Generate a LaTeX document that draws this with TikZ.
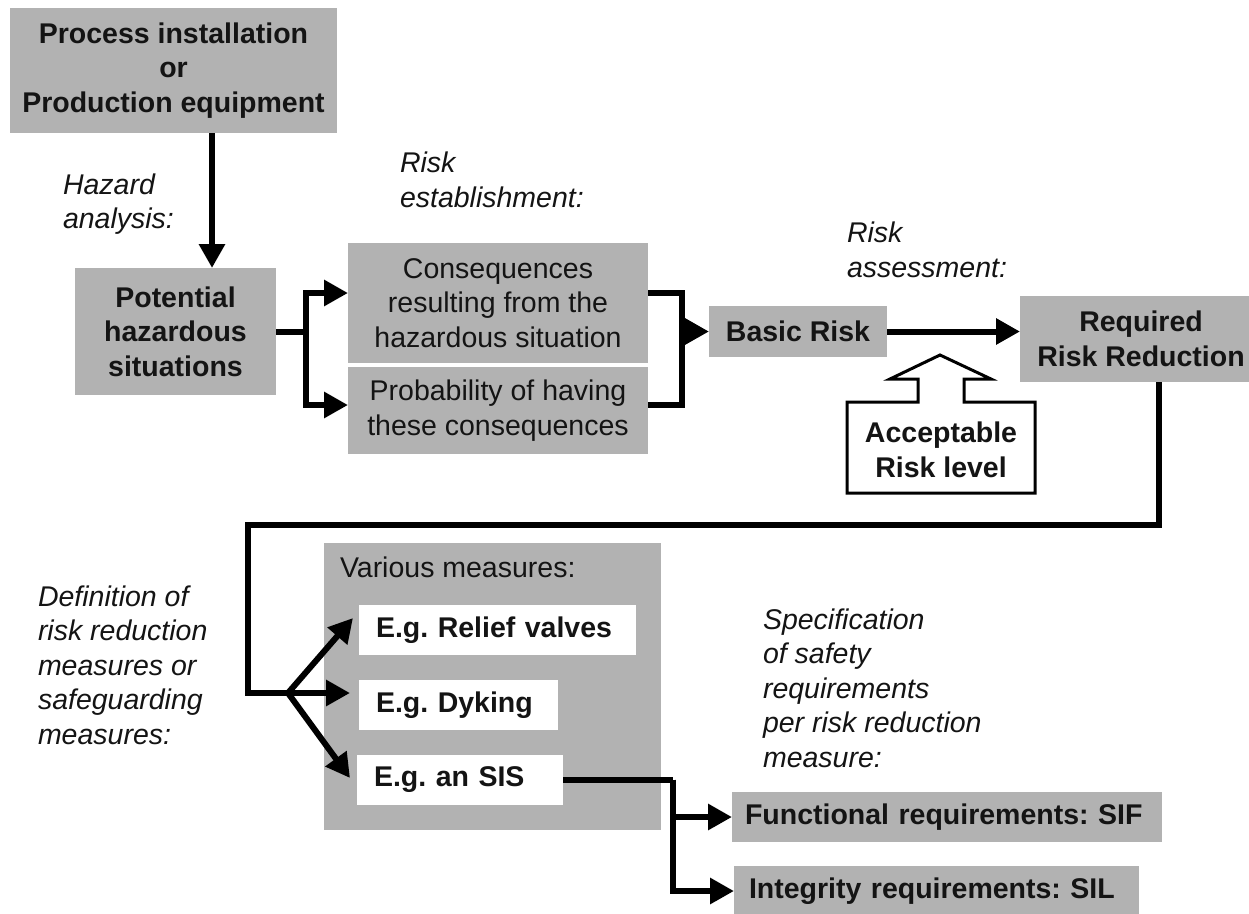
\documentclass[tikz,border=0pt]{standalone}
\usepackage{fontspec}
\setmainfont{Liberation Sans}
\usetikzlibrary{arrows.meta,calc}
\definecolor{boxgray}{RGB}{178,178,178}
\definecolor{ink}{RGB}{20,20,20}
\frenchspacing
\begin{document}
\begin{tikzpicture}[x=1pt,y=-1pt,
 every node/.style={inner sep=0pt, outer sep=0pt, text=ink},
 fs/.style={font=\fontsize{28.5}{34.5}\selectfont},
 bld/.style={font=\fontsize{28.5}{34.5}\selectfont\bfseries},
 gbox/.style={fill=boxgray, align=center, fs},
 lbl/.style={align=left, font=\fontsize{28.5}{34.5}\selectfont\itshape},
 wbox/.style={fill=white, align=left, bld, inner xsep=17pt, anchor=west, minimum height=50pt},
 conn/.style={line width=6pt, draw=black, line join=miter},
 arr/.style={conn, -{Triangle[length=24pt,width=25pt]}},
]
\useasboundingbox (0,0) rectangle (1249,913);
\fill[white] (0,0) rectangle (1249,913);
\clip (0,0) rectangle (1249,913);

% boxes
\node[gbox,bld,minimum width=327pt,minimum height=125pt] (top) at (173.5,70.5) {Process installation\\or\\Production equipment};
\node[gbox,bld,minimum width=201pt,minimum height=127pt] (pot) at (175.5,331.5) {Potential\\hazardous\\situations};
\node[gbox,minimum width=300pt,minimum height=120pt] (cons) at (498,303) {Consequences\\resulting from the\\hazardous situation};
\node[gbox,minimum width=300pt,minimum height=87pt] (prob) at (498,410.5) {Probability of having\\these consequences};
\node[gbox,bld,minimum width=178pt,minimum height=51pt] (basic) at (798,331.5) {Basic Risk};
\node[gbox,bld,minimum width=242pt,minimum height=86pt] (req) at (1141,339) {Required\\Risk Reduction};

% acceptable risk level (block arrow)
\draw[line width=3pt, fill=white, line join=miter] (847,402) -- (918,402) -- (918,379) -- (890,379) -- (940,355) -- (991,379) -- (964,379) -- (964,402) -- (1035,402) -- (1035,493) -- (847,493) -- cycle;
\node[bld, align=center] (acc) at (941,450) {Acceptable\\Risk level};

% labels
\node[lbl, anchor=west] (hz) at (63,204) {Hazard\\analysis:};
\node[lbl, anchor=west] (re) at (400,180) {Risk\\establishment:};
\node[lbl, anchor=west] (ra) at (847,250) {Risk\\assessment:};
\node[lbl, anchor=west] (df) at (38,665) {Definition of\\risk reduction\\measures or\\safeguarding\\measures:};
\node[lbl, anchor=west] (sp) at (763,688) {Specification\\of safety\\requirements\\per risk reduction\\measure:};

% various measures
\node[fill=boxgray, minimum width=337pt, minimum height=287pt] (var) at (492.5,686.5) {};
\node[fs, anchor=west] (vm) at (340,567) {Various measures:};
\node[wbox, text width=243pt] (relief) at (359,630) {E.g. Relief valves};
\node[wbox, text width=165pt] (dyk) at (359,705) {E.g. Dyking};
\node[wbox, text width=172pt] (sis) at (357,779.5) {E.g. an SIS};

\node[wbox, fill=boxgray, inner xsep=13pt, text width=404pt] (func) at (732,817) {Functional requirements: SIF};
\node[wbox, fill=boxgray, inner xsep=15pt, text width=375pt] (integ) at (734,891) {Integrity requirements: SIL};

% connectors
\draw[arr] ([xshift=38.5pt]top.south) -- ([xshift=38.5pt]top.south |- pot.north);
\draw[conn] (pot.east) -- ++(30,0) coordinate (jl);
\draw[arr] (jl) |- ([yshift=10pt]cons.west);
\draw[arr] (jl) |- ([yshift=5.5pt]prob.west);
\draw[conn] ([yshift=10pt]cons.east) -- ++(34,0) coordinate (rb) |- ([yshift=5.5pt]prob.east);
\draw[arr] (rb |- basic.west) -- (basic.west);
\draw[arr] (basic.east) -- (basic.east -| req.west);

\coordinate (jn) at (288,693);
\draw[conn] ([xshift=18pt]req.south) -- ++(0,143) -| ([xshift=-40pt]jn) -- (jn);
\draw[arr] (jn) -- ($(relief.west)+(-6,-12)$);
\draw[arr] (jn) -- ($(dyk.west)+(-9,-12)$);
\draw[arr] (jn) -- ($(sis.west)+(-7,-1.5)$);

\draw[conn] (sis.east) -- ++(110,0) coordinate (sb);
\draw[arr] (sb) |- (func.west);
\draw[arr] (sb) |- (integ.west);
\end{tikzpicture}
\end{document}
